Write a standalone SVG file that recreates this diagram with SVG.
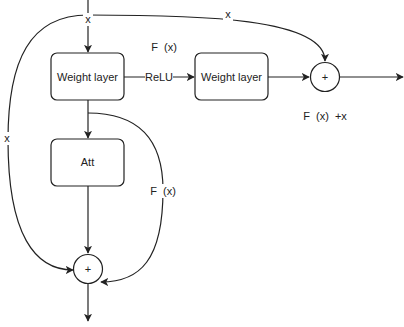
<svg xmlns="http://www.w3.org/2000/svg" width="404" height="327" viewBox="0 0 404 327">
<style>
.box{fill:#fff;stroke:#222;stroke-width:1.2}
.ln{fill:none;stroke:#222;stroke-width:1.2}
.t{font-family:"Liberation Sans",Arial,sans-serif;font-size:11px;fill:#222;text-anchor:middle;dominant-baseline:central;white-space:pre}
.lb{fill:#fff}
</style>
<defs>
<marker id="a" viewBox="0 0 10 10" refX="9" refY="5" markerWidth="8" markerHeight="8" markerUnits="userSpaceOnUse" orient="auto">
<path d="M0,0 L10,5 L0,10 L2.5,5 Z" fill="#222"/>
</marker>
</defs>
<rect width="404" height="327" fill="#fff"/>
<g id="connectors">
<path class="ln" d="M88,0 V52" marker-end="url(#a)"/>
<path class="ln" d="M88,15 C30,15 8,60 8,140 C8,235 35,270 73,270" marker-end="url(#a)"/>
<path class="ln" d="M88,15 C200,15 325,18 325,61" marker-end="url(#a)"/>
<path class="ln" d="M124,77 H194" marker-end="url(#a)"/>
<path class="ln" d="M268,77 H309" marker-end="url(#a)"/>
<path class="ln" d="M340,77 H403" marker-end="url(#a)"/>
<path class="ln" d="M88,100 V138" marker-end="url(#a)"/>
<path class="ln" d="M88,113 C140,113 163,140 163,190 C163,260 140,282 101,282" marker-end="url(#a)"/>
<path class="ln" d="M88,186 V253" marker-end="url(#a)"/>
<path class="ln" d="M88,284 V321" marker-end="url(#a)"/>
<rect class="lb" x="83" y="13" width="10" height="13"/>
<text class="t" x="88" y="19" xml:space="preserve">x</text>
<rect class="lb" x="223" y="9" width="10" height="12"/>
<text class="t" x="228" y="14">x</text>
<rect class="lb" x="3" y="132" width="10" height="13"/>
<text class="t" x="7" y="138">x</text>
<rect class="lb" x="145" y="70" width="28" height="14"/>
<text class="t" x="159" y="77">ReLU</text>
<rect class="lb" x="147" y="184" width="31" height="14"/>
<text class="t" x="163" y="191" xml:space="preserve">F  (x)</text>
</g>
<text class="t" x="164" y="47" xml:space="preserve">F  (x)</text>
<text class="t" x="325" y="116" xml:space="preserve">F  (x)  +x</text>
<g id="weight1">
<rect class="box" x="51" y="53" width="73" height="47" rx="6"/>
<text class="t" x="87.5" y="77">Weight layer</text>
</g>
<g id="weight2">
<rect class="box" x="195" y="53" width="73" height="47" rx="6"/>
<text class="t" x="231.5" y="77">Weight layer</text>
</g>
<g id="plus1">
<circle class="box" cx="325" cy="77" r="14.5"/>
<text class="t" x="325" y="77" font-size="9">+</text>
</g>
<g id="att">
<rect class="box" x="51" y="139" width="73" height="47" rx="6"/>
<text class="t" x="87.5" y="162">Att</text>
</g>
<g id="plus2">
<circle class="box" cx="88" cy="269" r="14.5"/>
<text class="t" x="88" y="269" font-size="9">+</text>
</g>
</svg>
